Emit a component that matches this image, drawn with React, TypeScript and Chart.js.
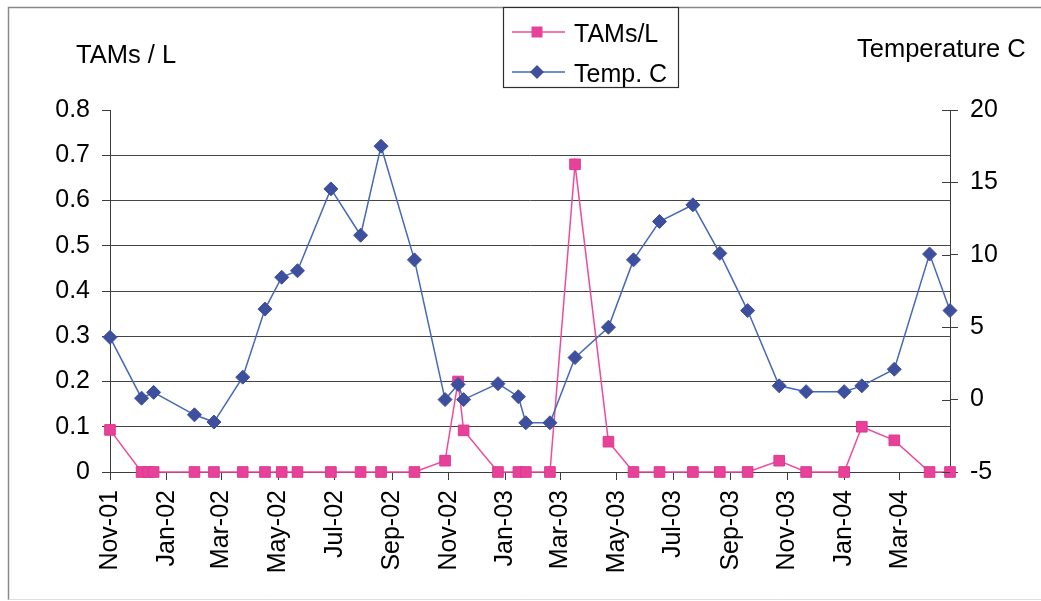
import React, { useEffect, useRef } from 'react';
import { Chart, registerables } from 'chart.js';

Chart.register(...registerables);

// Sampling dates (ISO) shared by both series
const sampleDates = [
  '2001-11-01', '2001-12-05', '2001-12-12', '2001-12-18', '2002-01-31',
  '2002-02-21', '2002-03-24', '2002-04-17', '2002-05-05', '2002-05-22',
  '2002-06-27', '2002-07-29', '2002-08-20', '2002-09-25', '2002-10-28',
  '2002-11-11', '2002-11-17', '2002-12-24', '2003-01-15', '2003-01-23',
  '2003-02-18', '2003-03-17', '2003-04-22', '2003-05-19', '2003-06-16',
  '2003-07-22', '2003-08-20', '2003-09-19', '2003-10-23', '2003-11-21',
  '2004-01-01', '2004-01-20', '2004-02-24', '2004-04-02', '2004-04-24',
];

// TAMs per litre
const tamsPerL = [
  0.093, 0, 0, 0, 0,
  0, 0, 0, 0, 0,
  0, 0, 0, 0, 0.025,
  0.2, 0.092, 0, 0, 0,
  0, 0.68, 0.067, 0, 0,
  0, 0, 0, 0.025, 0,
  0, 0.1, 0.07, 0, 0,
];

// Water temperature, degrees C (no reading on one date)
const tempC = [
  4.3, 0.1, null, 0.5, -1.05,
  -1.55, 1.55, 6.25, 8.45, 8.9,
  14.55, 11.35, 17.5, 9.65, 0.0,
  1.05, 0.0, 1.1, 0.2, -1.6,
  -1.6, 2.9, 5.0, 9.65, 12.3,
  13.45, 10.1, 6.15, 0.95, 0.55,
  0.55, 0.95, 2.1, 10.05, 6.15,
];

// Bimonthly date-axis ticks
const tickDates = [
  '2001-11-01', '2002-01-01', '2002-03-01', '2002-05-01', '2002-07-01',
  '2002-09-01', '2002-11-01', '2003-01-01', '2003-03-01', '2003-05-01',
  '2003-07-01', '2003-09-01', '2003-11-01', '2004-01-01', '2004-03-01',
];
const tickLabels = [
  'Nov-01', 'Jan-02', 'Mar-02', 'May-02', 'Jul-02',
  'Sep-02', 'Nov-02', 'Jan-03', 'Mar-03', 'May-03',
  'Jul-03', 'Sep-03', 'Nov-03', 'Jan-04', 'Mar-04',
];

const tamsTicks = [0, 0.1, 0.2, 0.3, 0.4, 0.5, 0.6, 0.7, 0.8];
const tempTicks = [-5, 0, 5, 10, 15, 20];

const FONT = "'Liberation Sans', Arial, Helvetica, sans-serif";
const AXIS = '#3c3c3c';
const GRID = '#454545';
const PINK_LINE = '#ee4b9c';
const PINK_FILL = '#e8419a';
const BLUE_LINE = '#4568b9';
const BLUE_FILL = '#3d4f9d';

const toUTC = (iso: string) => {
  const [y, m, d] = iso.split('-').map(Number);
  return Date.UTC(y, m - 1, d);
};
const origin = toUTC(sampleDates[0]);
const dayOf = (iso: string) => (toUTC(iso) - origin) / 86400000;

// Frame, axis captions, legend box and the inward tick marks of the right axis
const decorations = {
  id: 'decorations',
  afterDraw(chart: any) {
    const { ctx } = chart;
    ctx.save();

    // outer frame
    ctx.lineWidth = 1.5;
    ctx.strokeStyle = '#8a8a8a';
    ctx.beginPath();
    ctx.moveTo(8.5, 600);
    ctx.lineTo(8.5, 7.5);
    ctx.lineTo(1041, 7.5);
    ctx.stroke();
    ctx.lineWidth = 1;
    ctx.strokeStyle = '#dedede';
    ctx.beginPath();
    ctx.moveTo(8.5, 599.5);
    ctx.lineTo(1041, 599.5);
    ctx.stroke();

    // right axis: tick marks crossing into the plot
    const yt = chart.scales.yTemp;
    ctx.strokeStyle = AXIS;
    ctx.lineWidth = 1;
    ctx.beginPath();
    yt.ticks.forEach((t: any) => {
      const y = Math.round(yt.getPixelForValue(t.value)) + 0.5;
      ctx.moveTo(yt.left - 8, y);
      ctx.lineTo(yt.left, y);
    });
    ctx.stroke();

    // axis captions
    ctx.fillStyle = '#000';
    ctx.font = `25.5px ${FONT}`;
    ctx.textBaseline = 'alphabetic';
    ctx.textAlign = 'left';
    ctx.fillText('TAMs / L', 76, 63);
    ctx.fillText('Temperature C', 857, 57);

    // legend
    ctx.fillStyle = '#fff';
    ctx.fillRect(503, 7, 176, 81);
    ctx.strokeStyle = '#2e2e2e';
    ctx.lineWidth = 1.2;
    ctx.strokeRect(503.5, 7.5, 175, 80);

    const rows = [
      { label: 'TAMs/L', y: 32, line: PINK_LINE, fill: PINK_FILL, shape: 'rect' },
      { label: 'Temp. C', y: 72, line: BLUE_LINE, fill: BLUE_FILL, shape: 'diamond' },
    ];
    rows.forEach((r) => {
      ctx.strokeStyle = r.line;
      ctx.lineWidth = 1.5;
      ctx.beginPath();
      ctx.moveTo(512, r.y);
      ctx.lineTo(565, r.y);
      ctx.stroke();
      ctx.fillStyle = r.fill;
      ctx.beginPath();
      if (r.shape === 'rect') {
        ctx.rect(531.5, r.y - 5.5, 11, 11);
      } else {
        ctx.moveTo(537, r.y - 7);
        ctx.lineTo(544, r.y);
        ctx.lineTo(537, r.y + 7);
        ctx.lineTo(530, r.y);
        ctx.closePath();
      }
      ctx.fill();
      ctx.fillStyle = '#000';
      ctx.font = `25px ${FONT}`;
      ctx.fillText(r.label, 574, r.y + 10);
    });

    ctx.restore();
  },
};

export default function App() {
  const canvasRef = useRef<HTMLCanvasElement | null>(null);

  useEffect(() => {
    const canvas = canvasRef.current;
    if (!canvas) return;

    const tickFont = { family: FONT, size: 25 };

    const chart = new Chart(canvas, {
      type: 'line',
      data: {
        datasets: [
          {
            label: 'Temp. C',
            data: sampleDates.map((d, i) => ({ x: dayOf(d), y: tempC[i] })),
            yAxisID: 'yTemp',
            borderColor: BLUE_LINE,
            borderWidth: 1.5,
            pointStyle: 'rectRot',
            pointRadius: 7,
            pointBackgroundColor: BLUE_FILL,
            pointBorderColor: BLUE_FILL,
            pointBorderWidth: 1,
            spanGaps: true,
            tension: 0,
            clip: false,
            order: 0,
          },
          {
            label: 'TAMs/L',
            data: sampleDates.map((d, i) => ({ x: dayOf(d), y: tamsPerL[i] })),
            yAxisID: 'yTams',
            borderColor: PINK_LINE,
            borderWidth: 1.5,
            pointStyle: 'rect',
            pointRadius: 7.5,
            pointBackgroundColor: PINK_FILL,
            pointBorderColor: '#dc3a8e',
            pointBorderWidth: 1,
            tension: 0,
            clip: false,
            order: 1,
          },
        ] as any,
      },
      options: {
        animation: false,
        responsive: false,
        devicePixelRatio: 1,
        layout: { padding: { top: 110, left: 0, right: 0, bottom: 0 } },
        plugins: {
          legend: { display: false },
          tooltip: { enabled: false },
        },
        scales: {
          x: {
            type: 'linear',
            min: 0,
            max: dayOf(sampleDates[sampleDates.length - 1]),
            afterBuildTicks: (axis: any) => {
              axis.ticks = tickDates.map((d) => ({ value: dayOf(d) }));
            },
            afterFit: (axis: any) => {
              axis.height = 129;
            },
            grid: { drawOnChartArea: false, tickLength: 8, color: AXIS, lineWidth: 1 },
            border: { color: AXIS, width: 1 },
            ticks: {
              autoSkip: false,
              maxRotation: 90,
              minRotation: 90,
              padding: 10,
              color: '#000',
              font: tickFont,
              callback: (_v: any, i: number) => tickLabels[i],
            },
          },
          yTams: {
            type: 'linear',
            position: 'left',
            min: 0,
            max: 0.8,
            afterBuildTicks: (axis: any) => {
              axis.ticks = tamsTicks.map((value) => ({ value }));
            },
            afterFit: (axis: any) => {
              axis.width = 110;
            },
            grid: {
              color: (c: any) =>
                c.tick && Math.abs(c.tick.value - 0.8) < 1e-9 ? 'rgba(0,0,0,0)' : GRID,
              tickColor: AXIS,
              tickLength: 8,
              lineWidth: 1,
            },
            border: { color: AXIS, width: 1 },
            ticks: {
              padding: 12,
              color: '#000',
              font: tickFont,
              callback: (v: any) => (v === 0 ? '0' : Number(v).toFixed(1)),
            },
          },
          yTemp: {
            type: 'linear',
            position: 'right',
            min: -5,
            max: 20,
            afterBuildTicks: (axis: any) => {
              axis.ticks = tempTicks.map((value) => ({ value }));
            },
            afterFit: (axis: any) => {
              axis.width = 91;
            },
            grid: { drawOnChartArea: false, tickLength: 8, color: AXIS, lineWidth: 1 },
            border: { color: AXIS, width: 1 },
            ticks: {
              padding: 12,
              color: '#000',
              font: tickFont,
              callback: (v: any) => String(v),
            },
          },
        },
      } as any,
      plugins: [decorations],
    });

    return () => chart.destroy();
  }, []);

  return (
    <div
      style={{
        position: 'fixed',
        left: 0,
        top: 0,
        width: 1041,
        height: 601,
        background: '#fff',
      }}
    >
      <canvas ref={canvasRef} width={1041} height={601} style={{ display: 'block' }} />
    </div>
  );
}
